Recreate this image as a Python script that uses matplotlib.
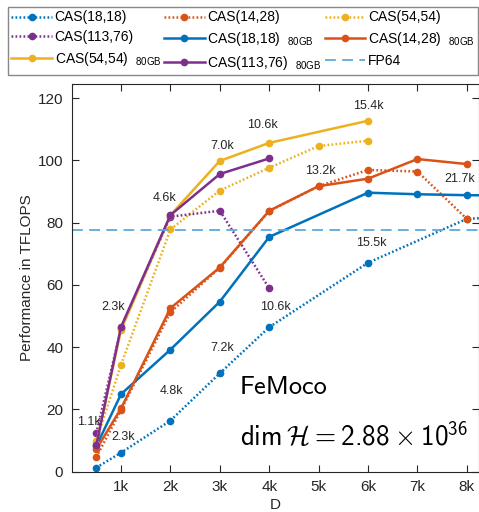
import numpy as np
import matplotlib
matplotlib.use('Agg')
from matplotlib import pyplot as plt

plt.rcParams['font.family'] = ['Liberation Sans', 'DejaVu Sans']
plt.rcParams['mathtext.fontset'] = 'custom'
plt.rcParams['mathtext.rm'] = 'cmss10'
plt.rcParams['mathtext.sf'] = 'cmss10'
plt.rcParams['mathtext.cal'] = 'cmsy10'

# bond dimension D
D_18 = [500, 1000, 2000, 3000, 4000, 6000, 8000, 9000]
D_18_80 = [500, 1000, 2000, 3000, 4000, 6000, 7000, 8000, 9000]
D_14 = [500, 1000, 2000, 3000, 4000, 5000, 6000, 7000, 8000]
D_54 = [500, 1000, 2000, 3000, 4000, 5000, 6000]
D_54_80 = [500, 1000, 2000, 3000, 4000, 6000]
D_113 = [500, 1000, 2000, 3000, 4000]

# TFLOPS
cas18 = [1.3, 6.1, 16.4, 31.6, 46.4, 67.1, 81.2, 82.0]
cas18_80 = [8.2, 24.9, 39.2, 54.6, 75.4, 89.6, 89.1, 88.8, 88.7]
cas14 = [4.7, 19.8, 51.2, 65.5, 83.7, 91.7, 96.9, 96.4, 81.2]
cas14_80 = [7.2, 20.3, 52.5, 65.6, 83.8, 91.7, 94.1, 100.4, 98.8]
cas54 = [10.0, 34.3, 77.8, 90.3, 97.6, 104.6, 106.3]
cas54_80 = [9.0, 45.5, 82.4, 99.8, 105.6, 112.7]
cas113 = [12.4, 46.0, 81.9, 83.8, 58.9]
cas113_80 = [8.5, 46.5, 82.4, 95.6, 100.6]
fp64 = 77.5

# annotations: text, x, y
ann_text = ['15.4k', '10.6k', '7.0k', '4.6k', '13.2k', '21.7k', '15.5k',
            '10.6k', '7.2k', '4.8k', '2.3k', '2.3k', '1.1k']
ann_x = [6000, 3865, 3039, 1891, 5028, 7862, 6075, 4117, 3039, 2032, 838, 1040, 352]
ann_y = [117.4, 111.3, 104.6, 87.8, 96.6, 93.9, 73.6, 53.0, 39.8, 25.9, 53.0, 11.0, 16.1]

blue = '#0072BD'
orange = '#D95319'
yellow = '#EDB120'
purple = '#7E2F8E'

fig = plt.figure(figsize=(4.79, 5.12), dpi=100)
ax = fig.add_axes([0.1495, 0.0787, 0.8495, 0.7572])

dot = (0, (0.7, 0.9))
lw = 1.8
ms = 4.5
sub = r'  $_{\mathregular{80GB}}$'

h = []
h += ax.plot(D_18, cas18, ls=dot, color=blue, lw=lw, marker='o', ms=ms, label='CAS(18,18)')
h += ax.plot(D_14, cas14, ls=dot, color=orange, lw=lw, marker='o', ms=ms, label='CAS(14,28)')
h += ax.plot(D_54, cas54, ls=dot, color=yellow, lw=lw, marker='o', ms=ms, label='CAS(54,54)')
h += ax.plot(D_113, cas113, ls=dot, color=purple, lw=lw, marker='o', ms=ms, label='CAS(113,76)')
h += ax.plot(D_18_80, cas18_80, ls='-', color=blue, lw=lw, marker='o', ms=ms, label='CAS(18,18)' + sub)
h += ax.plot(D_14, cas14_80, ls='-', color=orange, lw=lw, marker='o', ms=ms, label='CAS(14,28)' + sub)
h += ax.plot(D_54_80, cas54_80, ls='-', color=yellow, lw=lw, marker='o', ms=ms, label='CAS(54,54)' + sub)
h += ax.plot(D_113, cas113_80, ls='-', color=purple, lw=lw, marker='o', ms=ms, label='CAS(113,76)' + sub)
h.append(ax.axhline(fp64, color='#5FA8DC', lw=1.3, ls=(0, (6, 3.5)), label='FP64'))

for t, x, y in zip(ann_text, ann_x, ann_y):
    ax.text(x, y, t, ha='center', va='center', fontsize=9, color='#262626')

ax.text(0.414, 0.216, 'FeMoco', family='cmss10', transform=ax.transAxes,
        ha='left', va='center', fontsize=19)
ax.text(0.414, 0.0895,
        r'$\mathrm{dim}\,\mathcal{H} = 2.88\times10^{36}$',
        transform=ax.transAxes, ha='left', va='center', fontsize=19.5)

ax.set_xlim(0, 8237)
ax.set_ylim(0, 124.5)
ax.set_xticks([1000, 2000, 3000, 4000, 5000, 6000, 7000, 8000])
ax.set_xticklabels(['1k', '2k', '3k', '4k', '5k', '6k', '7k', '8k'])
ax.set_yticks([0, 20, 40, 60, 80, 100, 120])
ax.tick_params(direction='in', top=True, right=True, labelsize=11,
               colors='#262626', length=5, width=0.8, pad=6)
for s in ax.spines.values():
    s.set_color('#262626')
    s.set_linewidth(0.8)
ax.set_xlabel('D', fontsize=11, color='#262626', labelpad=3)
ax.set_ylabel('Performance in TFLOPS', fontsize=11, color='#262626', labelpad=3)

# legend fills row by row like the original
order = [0, 3, 6, 1, 4, 7, 2, 5, 8]
fig.legend([h[i] for i in order], [h[i].get_label() for i in order],
           loc='lower left', bbox_to_anchor=(8 / 479, 1 - 75 / 512, 470 / 479, 67 / 512),
           mode='expand', ncol=3, fontsize=10, handlelength=2.9, handletextpad=0.2,
           borderaxespad=0, fancybox=False, edgecolor='#888888', framealpha=1,
           labelspacing=0.4, borderpad=0.25, columnspacing=0.4)

fig.savefig('out.png', dpi=100)
